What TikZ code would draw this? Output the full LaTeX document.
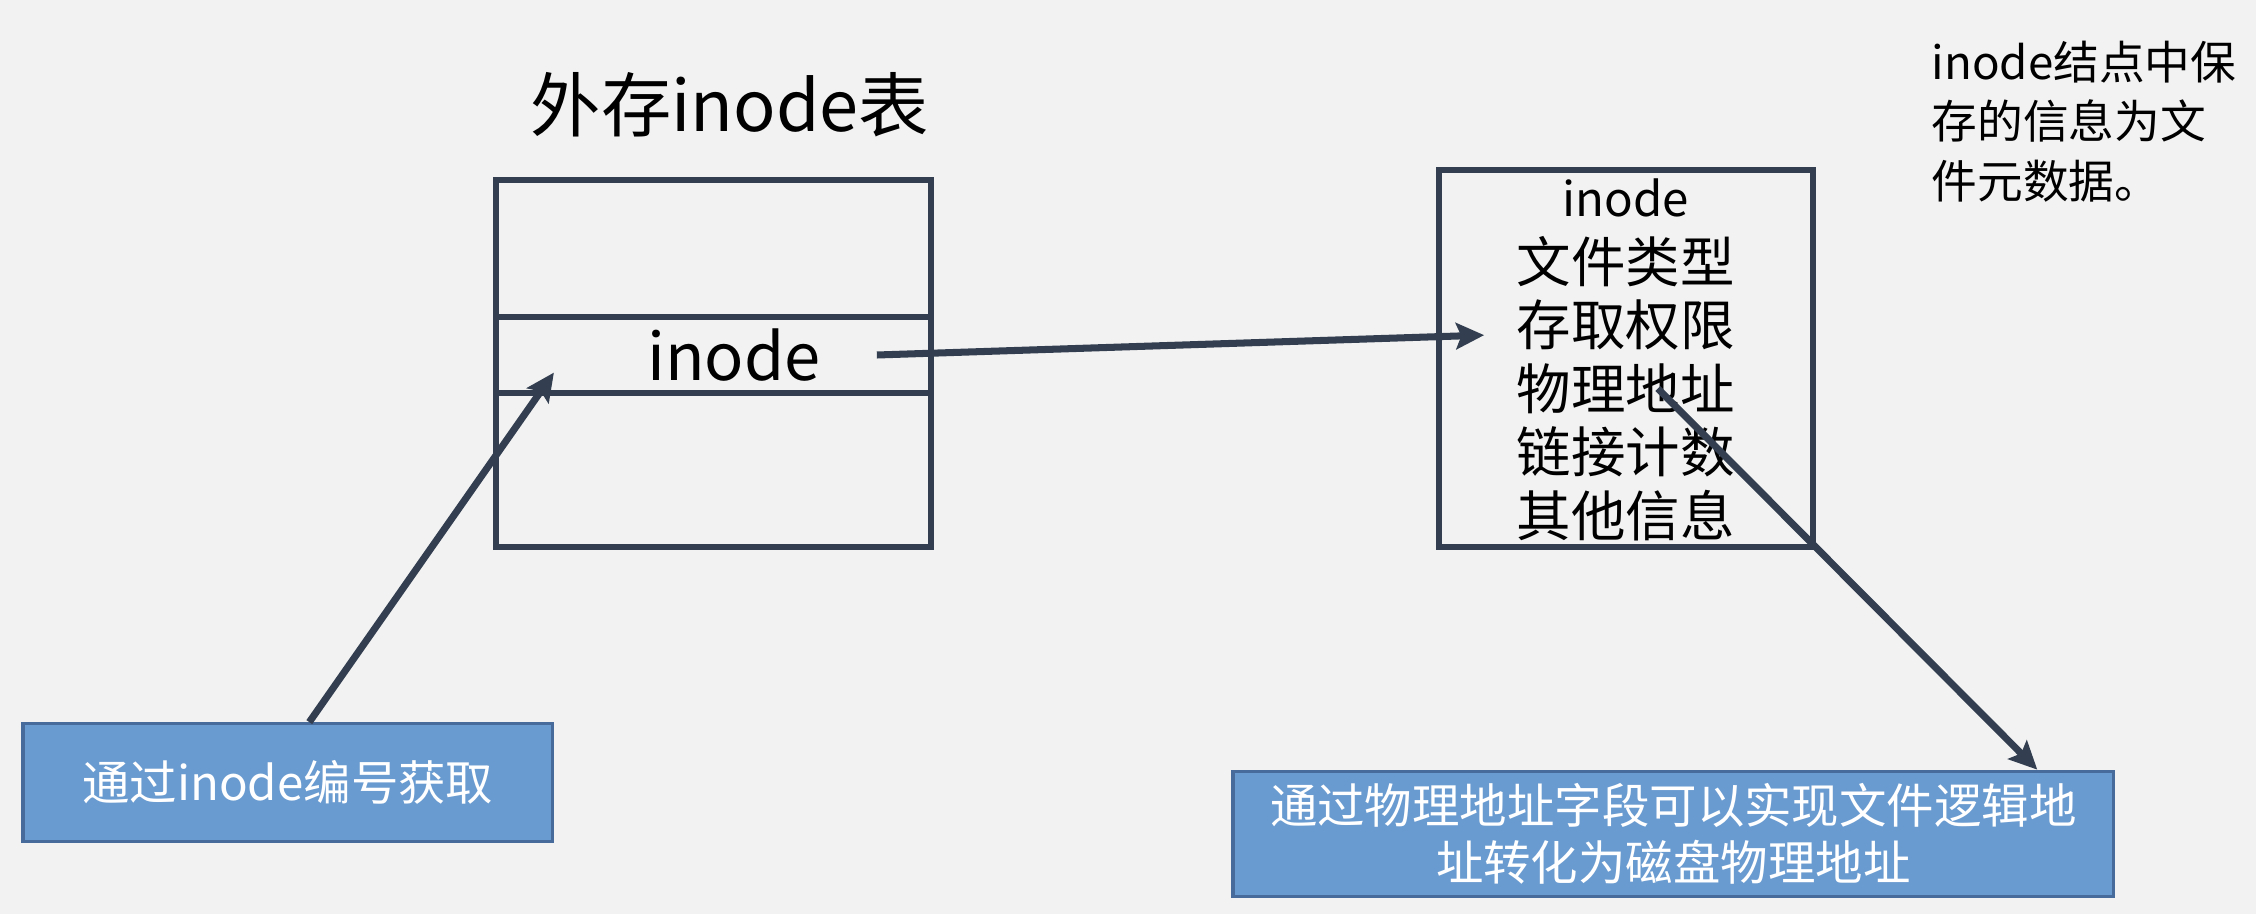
\documentclass[tikz,border=0pt]{standalone}
\usepackage{fontspec}
\usepackage{xcolor}
\usepackage{tikz}
\usetikzlibrary{arrows.meta}
\usetikzlibrary{calc}
\usetikzlibrary{matrix}
\usetikzlibrary{positioning}
\newfontfamily\cjk{Noto Sans CJK SC}
\definecolor{pagebg}{RGB}{242,242,242}
\definecolor{slate}{RGB}{51,63,80}
\definecolor{cellblue}{RGB}{106,155,208}
\definecolor{cellrim}{RGB}{71,107,154}
\newcommand\fs[2]{\fontsize{#1}{#2}\selectfont}
\tikzstyle{arrhead}=[>/.tip={Stealth[length=8pt,width=7.5pt,inset=1.5pt]}]
\tikzstyle{frame}=[draw=slate,line width=1.7pt,outer sep=0pt]
\tikzstyle{link}=[line width=2pt,draw=slate,arrhead,->]
\tikzstyle{bluebox}=[fill=cellblue,draw=cellrim,line width=.9pt,text=white,font=\cjk\fs{13.5}{16.4},align=center]

\begin{document}
\begin{tikzpicture}[every node/.style={font=\cjk}]
	        \path[use as bounding box,fill=pagebg] (0,0) rectangle (22.56,9.14);
	        \node[font=\cjk\fs{20}{24}] (title) at (7.30,8.09) {外存inode表};
	        \node[frame,minimum width=4.345cm,minimum height=1.367cm] (tabtop) at (7.137,6.658) {};
	        \node[frame,minimum width=4.345cm,minimum height=0.763cm,below=0pt of tabtop] (tabmid) {};
	        \node[frame,minimum width=4.345cm,minimum height=1.539cm,below=0pt of tabmid] (tabbot) {};
	        \node[font=\cjk\fs{18.5}{22}] (slot) at (7.338,5.59) {inode};
	        \node[frame,minimum width=3.741cm,minimum height=3.769cm] (inodebox) at (16.258,5.5575) {};
	        \matrix (fields) [matrix of nodes,row sep=0pt,nodes={inner sep=0pt,minimum height=0.634cm,anchor=center,font=\cjk\fs{15.5}{18}}] at (16.258,5.5715) {
	          |[font=\cjk\fs{13.5}{16}]| inode \\ 文件类型 \\ 存取权限 \\ 物理地址 \\ 链接计数 \\ 其他信息 \\
	        };
	        \node[anchor=north west,inner sep=0pt,align=left,font=\cjk\fs{13}{17}] (remark) at (19.31,8.74) {inode结点中保\\存的信息为文\\件元数据。};
	        \node[bluebox,minimum width=5.295cm,minimum height=1.18cm] (getbox) at (2.878,1.313) {通过inode编号获取};
	        \node[bluebox,minimum width=8.806cm,minimum height=1.194cm] (convbox) at (16.733,0.802) {通过物理地址字段可以实现文件逻辑地\\址转化为磁盘物理地址};
	        \coordinate (pick) at (5.539,5.414);
	        \draw[link] ([xshift=4.4mm]slot.east) -- ([xshift=-3.2mm,yshift=-1mm]fields-3-1.west);
	        \draw[link] ([xshift=2.15mm]getbox.north) -- (pick);
	        \draw[link] ([xshift=3.2mm]fields-4-1.center) -- ([xshift=36.4mm]convbox.north);
          \end{tikzpicture}
\end{document}
